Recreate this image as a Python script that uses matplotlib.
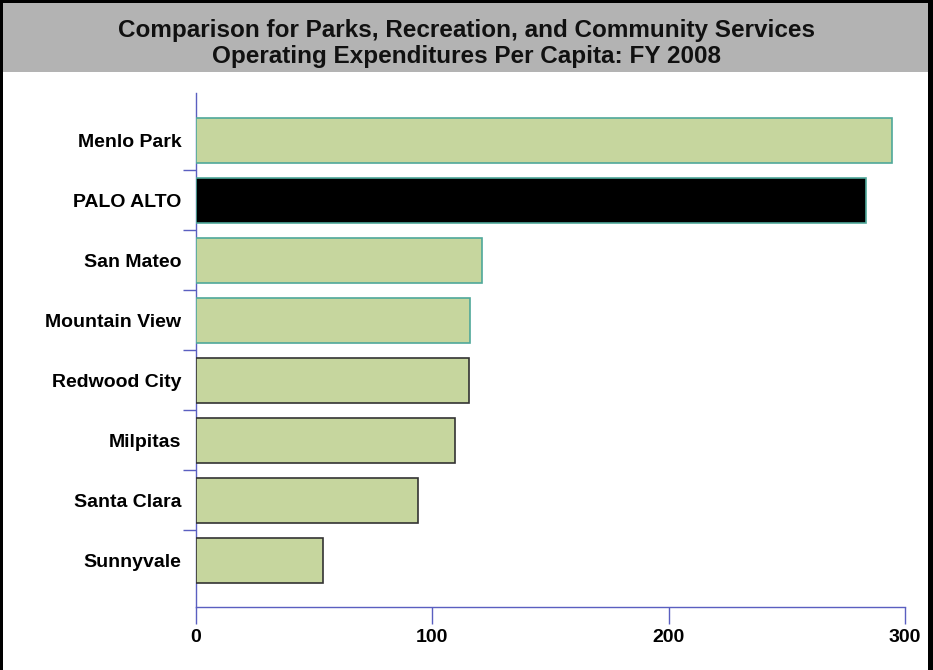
import matplotlib
matplotlib.use("Agg")
import matplotlib.pyplot as plt
from matplotlib.patches import Rectangle

# Per-capita operating expenditures, FY 2008 (dollars)
cities = ["Menlo Park", "PALO ALTO", "San Mateo", "Mountain View",
          "Redwood City", "Milpitas", "Santa Clara", "Sunnyvale"]
expenditures = [294.4, 283.4, 121.0, 116.1, 115.5, 109.7, 94.0, 53.9]
x_ticks = [0, 100, 200, 300]

title_lines = ["Comparison for Parks, Recreation, and Community Services",
               "Operating Expenditures Per Capita: FY 2008"]

plt.rcParams["font.family"] = ["Liberation Sans", "DejaVu Sans"]
plt.rcParams["font.weight"] = "bold"

W, H = 933, 670
fig = plt.figure(figsize=(W / 100, H / 100), dpi=100)
fig.patch.set_facecolor("white")

# Grey title band and outer frame
fig.patches.append(Rectangle((3 / W, 1 - 72 / H), 925 / W, 69 / H,
                             transform=fig.transFigure, facecolor="#b3b3b3",
                             edgecolor="none", zorder=0))
frame = "black"
fig.patches.append(Rectangle((0, 1 - 3 / H), 1, 3 / H, transform=fig.transFigure,
                             facecolor=frame, edgecolor="none"))
fig.patches.append(Rectangle((0, 0), 3 / W, 1, transform=fig.transFigure,
                             facecolor=frame, edgecolor="none"))
fig.patches.append(Rectangle((1 - 5 / W, 0), 5 / W, 1, transform=fig.transFigure,
                             facecolor=frame, edgecolor="none"))

fig.text(0.5, 1 - 36.5 / H, title_lines[0], ha="center", va="baseline",
         fontsize=17.5, fontweight="bold", color="#111111")
fig.text(0.5, 1 - 63.5 / H, title_lines[1], ha="center", va="baseline",
         fontsize=17.5, fontweight="bold", color="#111111")

ax = fig.add_axes([196 / W, 1 - 607 / H, (905 - 196) / W, (607 - 93) / H])

fill = "#c6d69e"
colors = [fill, "black"] + [fill] * 6
edges = ["#4fa89a"] * 4 + ["#333333"] * 4
pos = list(range(len(cities)))
ax.barh(pos, expenditures, height=0.75, color=colors, edgecolor=edges,
        linewidth=1.2, zorder=3)

ax.set_xlim(0, 300)
ax.set_ylim(7.775, -0.79)

axis_blue = "#5a5fc0"
for side in ("top", "right"):
    ax.spines[side].set_visible(False)
for side in ("left", "bottom"):
    ax.spines[side].set_color(axis_blue)
    ax.spines[side].set_linewidth(1.0)

ax.set_xticks(x_ticks)
ax.set_xticklabels([str(v) for v in x_ticks], fontsize=14, fontweight="bold")
ax.tick_params(axis="x", direction="out", length=12, width=1.0,
               color=axis_blue, pad=4)

ax.set_yticks(pos)
ax.set_yticklabels(cities, fontsize=14, fontweight="bold")
ax.tick_params(axis="y", which="major", length=0, pad=10.5)
ax.set_yticks([i + 0.5 for i in range(len(cities) - 1)], minor=True)
ax.tick_params(axis="y", which="minor", direction="out", length=9.5,
               width=1.0, color=axis_blue)

fig.savefig("out.png", dpi=100, facecolor="white")
